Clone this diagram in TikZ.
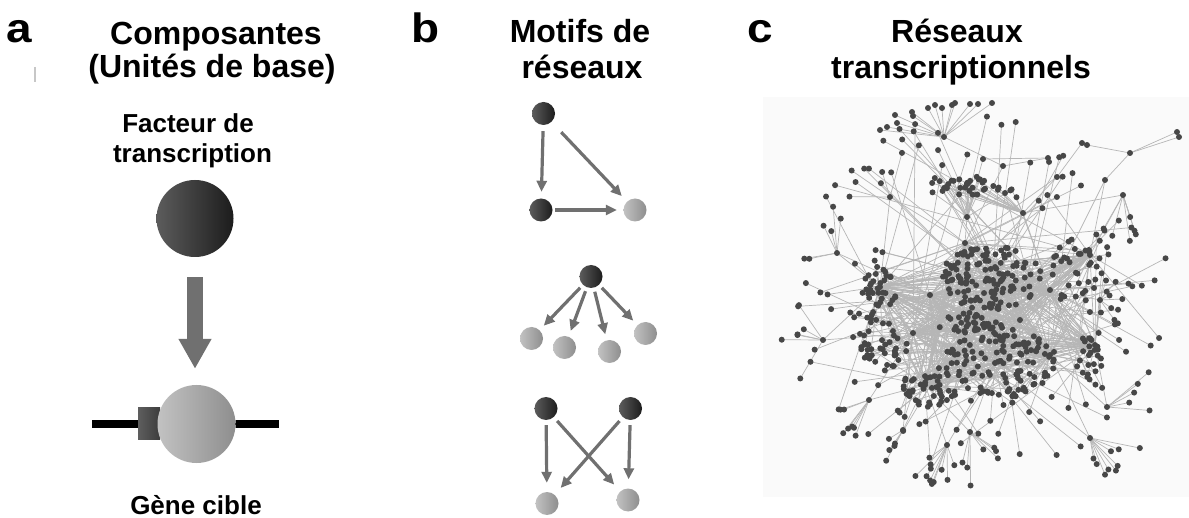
\documentclass[tikz,border=0pt]{standalone}
\usepackage{fontspec}
\setmainfont{Liberation Sans}
\newfontfamily\panelfont{Liberation Sans}[FakeStretch=1.12]
\usetikzlibrary{arrows.meta}

\definecolor{darkL}{HTML}{5C5C5C}
\definecolor{darkR}{HTML}{1C1C1C}
\definecolor{lightL}{HTML}{C2C2C2}
\definecolor{lightR}{HTML}{8E8E8E}
\definecolor{arrowgrey}{HTML}{707070}
\definecolor{boxL}{HTML}{5E5E5E}
\definecolor{boxR}{HTML}{3C3C3C}
\definecolor{netdotc}{HTML}{474747}
\definecolor{netlinec}{HTML}{B6B6B6}
\definecolor{netbg}{HTML}{FAFAFA}

% The network is drawn in two passes with the same random seed:
% first all edges, then all genes on top of them.
\newif\ifnetedgepass
\newcommand\netplace[1]{%
  \ifnetedgepass \draw[netedge] (#1) -- (pt);%
  \else \node[netdot] (gene dot) at (pt) {};\fi}

% random cluster: centre, radii, count, hub prefix, hub count
\newcommand\netblob[7]{%
  \foreach \i in {1,...,#5}{%
    \pgfmathsetmacro\ang{360*rnd}%
    \pgfmathsetmacro\rad{sqrt(rnd)}%
    \pgfmathsetmacro\px{#1+#3*\rad*cos(\ang)}%
    \pgfmathsetmacro\py{#2+#4*\rad*sin(\ang)}%
    \pgfmathtruncatemacro\k{random(1,#7)}%
    \coordinate (pt) at (\px,\py);%
    \netplace{#6\k}%
  }}
% outer ring of loose genes tied to the core hubs
\newcommand\netring[6]{%
  \foreach \i in {1,...,#5}{%
    \pgfmathsetmacro\ang{360*rnd}%
    \pgfmathsetmacro\rad{#6+(1-#6)*rnd}%
    \pgfmathsetmacro\px{#1+#3*\rad*cos(\ang)}%
    \pgfmathsetmacro\py{#2+#4*\rad*sin(\ang)}%
    \pgfmathtruncatemacro\k{random(1,12)}%
    \coordinate (pt) at (\px,\py);%
    \netplace{C\k}%
  }}
% star: hub, count, radius range, angle range (screen degrees, 90 = down)
\newcommand\netstar[6]{%
  \foreach \i in {1,...,#2}{%
    \pgfmathsetmacro\ang{#5+(#6-#5)*rnd}%
    \pgfmathsetmacro\rad{#3+(#4-#3)*rnd}%
    \path (#1) ++(\ang:\rad) coordinate (pt);%
    \netplace{#1}%
  }}
% explicit targets of a hub
\newcommand\netsats[2]{%
  \foreach \sx/\sy in {#2}{%
    \coordinate (pt) at (\sx,\sy);%
    \netplace{#1}%
  }}

\newcommand\netbody{%
  \netblob{990}{278}{52}{32}{130}{C}{12}%
  \netblob{1000}{360}{56}{38}{130}{C}{12}%
  \netblob{880}{288}{18}{22}{32}{C}{12}%
  \netblob{882}{345}{25}{26}{40}{C}{12}%
  \netblob{930}{387}{28}{20}{40}{C}{12}%
  \netblob{1075}{275}{24}{38}{32}{C}{12}%
  \netblob{1090}{355}{12}{26}{22}{C}{12}%
  \netblob{960}{322}{26}{12}{25}{C}{12}%
  \netblob{968}{187}{48}{8}{32}{A}{2}%
  \netring{978}{295}{192}{182}{120}{0.55}%
  \netstar{P1}{7}{15}{45}{100}{200}%
  \netstar{P2}{9}{20}{55}{-30}{100}%
  \netstar{P3}{9}{20}{45}{60}{160}%
  \netstar{P4}{5}{15}{40}{60}{150}%
  \netstar{P5}{6}{15}{50}{150}{280}%
  \netstar{P6}{6}{15}{45}{120}{240}%
  \netstar{P7}{4}{25}{55}{180}{300}%
  \netstar{P8}{6}{20}{90}{60}{120}%
  \netstar{P9}{5}{20}{60}{-60}{30}%
  \netstar{P10}{7}{15}{55}{30}{120}%
  \netstar{P11}{8}{10}{25}{-90}{90}%
  \netsats{T}{880/130, 887/127, 895/115, 897/123, 912/112, 913/116, 928/108, 935/105,
              942/108, 952/105, 955/103, 970/104, 978/104, 992/103}%
}

\begin{document}
\begin{tikzpicture}[x=1pt,y=-1pt,
  title/.style={anchor=base, inner sep=0pt, font=\fontsize{32}{36}\selectfont\bfseries},
  sub/.style={anchor=base, inner sep=0pt, font=\fontsize{26}{30}\selectfont\bfseries},
  letter/.style={anchor=base west, inner sep=0pt, font=\panelfont\fontsize{41}{46}\selectfont\bfseries},
  tfbig/.style={circle, inner sep=0pt, minimum size=77pt, left color=darkL, right color=darkR},
  genebig/.style={circle, inner sep=0pt, minimum size=78pt, left color=lightL, right color=lightR},
  site/.style={rectangle, inner sep=0pt, minimum width=22pt, minimum height=32pt, left color=boxL, right color=boxR},
  bigarrow/.style={draw=arrowgrey, line width=16pt, -{Triangle[length=30pt,width=31pt]}},
  mdark/.style={circle, inner sep=0pt, minimum size=23pt, left color=darkL, right color=darkR},
  mlight/.style={circle, inner sep=0pt, minimum size=23pt, left color=lightL, right color=lightR},
  marrow/.style={draw=arrowgrey, line width=3.2pt, -{Triangle[length=11pt,width=10pt]}},
  netdot/.style={circle, inner sep=0pt, minimum size=6pt, fill=netdotc},
  netedge/.style={draw=netlinec, line width=0.7pt}]

\useasboundingbox (0,0) rectangle (1189,518);

% ---------- panel a : basic units ----------
\node[letter] (la) at (6,43) {a};
\draw[black!22, line width=2pt] (35,67) -- (35,82);
\node[title] (ta1) at (216,45) {Composantes};
\node[title] (ta2) at (212,78) {(Unités de base)};
\node[sub] (tf1) at (188,133) {Facteur de};
\node[sub] (tf2) at (192.5,163) {transcription};

\node[tfbig] (tf) at (195,218.5) {};
\coordinate (dnaL) at (92,424);
\coordinate (dnaR) at (279,424);
\draw[black, line width=8pt] (dnaL) -- (dnaR);
\node[site] (bsite) at (149,424) {};
\node[genebig] (gene) at (196.5,424) {};
\draw[bigarrow, shorten <=20pt, shorten >=16pt] (tf) -- (tf |- gene.north);
\node[sub] (tg) at (196,514) {Gène cible};

% ---------- panel b : network motifs ----------
\node[letter] (lb) at (411,43) {b};
\node[title] (tb1) at (580,43) {Motifs de};
\node[title] (tb2) at (582,79) {réseaux};

% feed-forward loop
\node[mdark] (f1) at (543.5,113.5) {};
\node[mdark] (f2) at (541,210) {};
\node[mlight] (f3) at (635,210) {};
\draw[marrow, shorten <=6pt, shorten >=6.5pt] (f1) -- (f2);
\draw[marrow, shorten <=14pt, shorten >=7.5pt] (f1) -- (f3);
\draw[marrow, shorten <=2.5pt, shorten >=6.5pt] (f2) -- (f3);

% single-input module
\node[mdark] (s0) at (591,276.5) {};
\node[mlight] (s1) at (531.5,338.5) {};
\node[mlight] (s2) at (564.5,347.5) {};
\node[mlight] (s3) at (609.5,351.5) {};
\node[mlight] (s4) at (645.5,333.5) {};
\foreach \t in {s1,s2,s3,s4}
  \draw[marrow, shorten <=4pt, shorten >=6pt] (s0) -- (\t);

% dense overlapping regulon
\node[mdark] (d1) at (546,408.5) {};
\node[mdark] (d2) at (630.5,408.5) {};
\node[mlight] (d3) at (547,503.5) {};
\node[mlight] (d4) at (628,500) {};
\draw[marrow, shorten <=5pt, shorten >=9pt] (d1) -- (d3);
\draw[marrow, shorten <=5pt, shorten >=9pt] (d1) -- (d4);
\draw[marrow, shorten <=5pt, shorten >=9pt] (d2) -- (d3);
\draw[marrow, shorten <=5pt, shorten >=9pt] (d2) -- (d4);

% ---------- panel c : transcriptional network ----------
\node[letter] (lc) at (747,43) {c};
\node[title] (tc1) at (957,43) {Réseaux};
\node[title] (tc2) at (961,79) {transcriptionnels};

\fill[netbg] (763,97) rectangle (1189,497);

% hub positions
\foreach \n/\x/\y in {1/993/280, 2/995/363, 3/913/333, 4/1050/290, 5/965/243, 6/1050/355,
                      7/925/385, 8/880/287, 9/1090/255, 10/1095/345, 11/930/295, 12/1020/320}
  \coordinate (C\n) at (\x,\y);
\coordinate (A1) at (967,217);
\coordinate (A2) at (1023,213);
\foreach \n/\x/\y in {1/869/400, 2/1090/438, 3/947/445, 4/903/430, 5/837/253, 6/823/340,
                      7/890/197, 8/1123/195, 9/1107/407, 10/970/432, 11/1100/300}
  \coordinate (P\n) at (\x,\y);
\coordinate (T) at (944,137);
\foreach \n/\x/\y in {1/1130/153, 2/1177/132, 3/1179/137, 4/1087/145, 5/1082/143,
                      6/1105/180, 7/1057/177, 8/1048/158, 9/983/159, 10/1003/166}
  \coordinate (R\n) at (\x,\y);

% edges between hubs
\foreach \a/\b in {C1/C2, C1/C4, C2/C3, C3/C8, C5/C1, C6/C2, C7/C3, C9/C4, C10/C6, C11/C1,
                   C12/C2, C11/C7, C5/C9, C8/C11, A1/C1, A1/C5, A2/C4, A2/C1, C12/C3, C10/C4,
                   P1/C7, P1/C3, P2/C6, P2/C2, P3/C7, P3/C2, P4/C3, P4/C7, P5/C8, P5/C11,
                   P6/C3, P6/C8, P7/C5, P7/C8, P8/C9, P8/A2, P9/C10, P9/C6, P10/C2, P10/C7,
                   P11/C4, P11/C10,
                   R1/R2, R1/R3, R1/R4, R4/R5, R1/R6, R5/R7, R8/R9, R10/R8, T/R10,
                   R10/C5, R6/C4, R6/C9, R7/C5, R7/A2, R9/A1}
  \draw[netedge] (\a) -- (\b);

% edges to every target gene
\netedgepasstrue
\pgfmathsetseed{4711}
\netbody

% genes on top
\netedgepassfalse
\pgfmathsetseed{4711}
\netbody
\foreach \h in {C1,C2,C3,C4,C5,C6,C7,C8,C9,C10,C11,C12,A1,A2,
                P1,P2,P3,P4,P5,P6,P7,P8,P9,P10,P11,T,
                R1,R2,R3,R4,R5,R6,R7,R8,R9,R10}
  \node[netdot] (hub \h) at (\h) {};

\end{tikzpicture}
\end{document}
